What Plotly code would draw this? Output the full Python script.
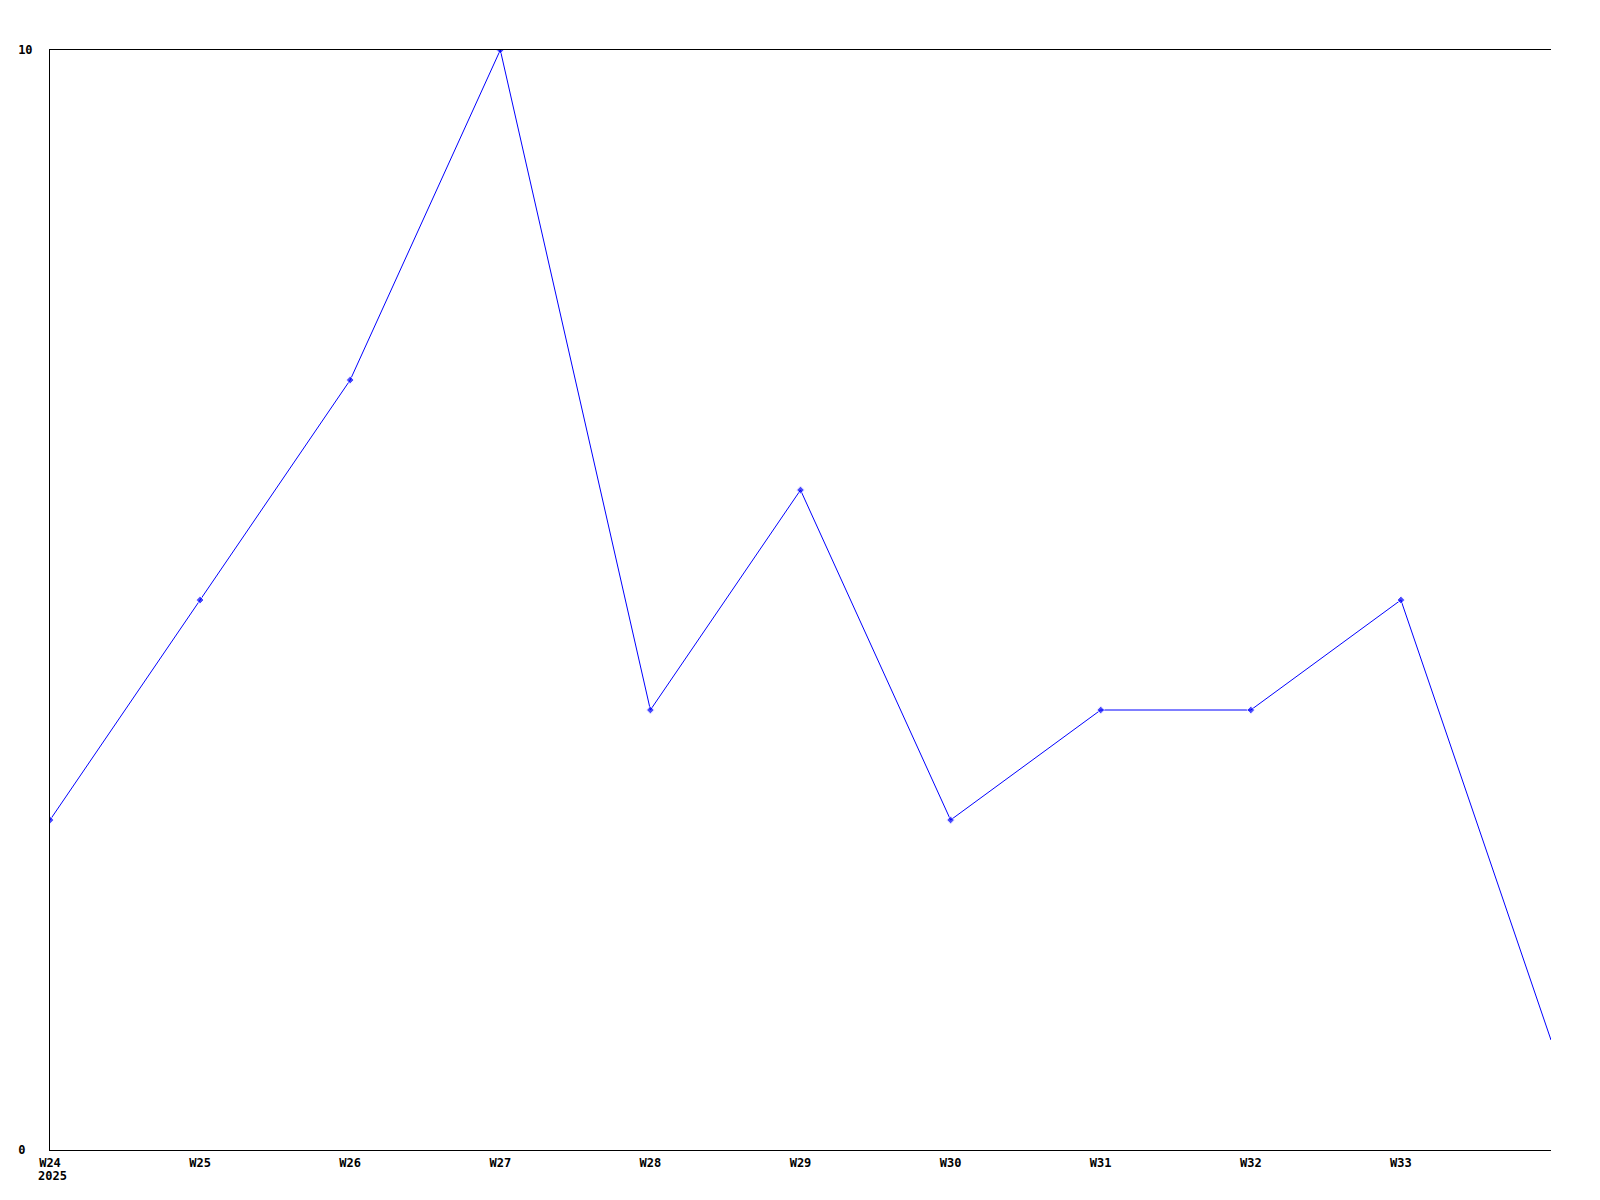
import plotly.graph_objects as go

weeks = ["W24", "W25", "W26", "W27", "W28", "W29", "W30", "W31", "W32", "W33", "W34"]
values = [3, 5, 7, 10, 4, 6, 3, 4, 4, 5, 1]
tick_labels = ["W24", "W25", "W26", "W27", "W28", "W29", "W30", "W31", "W32", "W33"]
year_label = "2025"
y_ticks = [0, 10]
y_tick_labels = ["0\u00a0", "10"]

xs = list(range(len(weeks)))
FONT = dict(family="DejaVu Sans Mono", size=12, color="black")
marker_sizes = [6] * (len(weeks) - 1) + [0]

fig = go.Figure()
fig.add_trace(go.Scatter(
    x=xs, y=values, mode="lines+markers",
    line=dict(color="#0000ff", width=1),
    marker=dict(symbol="diamond", size=marker_sizes, color="#0000ff"),
    hoverinfo="skip", showlegend=False,
))

fig.update_layout(
    width=1600, height=1200,
    margin=dict(l=42, r=57, t=42, b=58),
    paper_bgcolor="white", plot_bgcolor="white",
    font=FONT,
    xaxis=dict(
        range=[0, len(weeks) - 1], tickvals=xs[:len(tick_labels)], ticktext=[f"<b>{t}</b>" for t in tick_labels],
        showgrid=False, zeroline=False, showline=True, linecolor="black", linewidth=1,
        mirror=True, ticks="", tickfont=FONT, ticklabelstandoff=2, automargin=False,
    ),
    yaxis=dict(
        range=[0, 10], tickvals=y_ticks, ticktext=[f"<b>{v}</b>" for v in y_tick_labels],
        showgrid=False, zeroline=False, showline=True, linecolor="black", linewidth=1,
        ticks="", tickfont=FONT, ticklabelstandoff=14, automargin=False,
    ),
    annotations=[dict(
        x=0, y=0, xref="x", yref="paper", text=f"<b>{year_label}</b>",
        showarrow=False, xanchor="left", yanchor="top", xshift=-14, yshift=-17,
        font=FONT,
    )],
)

fig.write_html("out.html")
